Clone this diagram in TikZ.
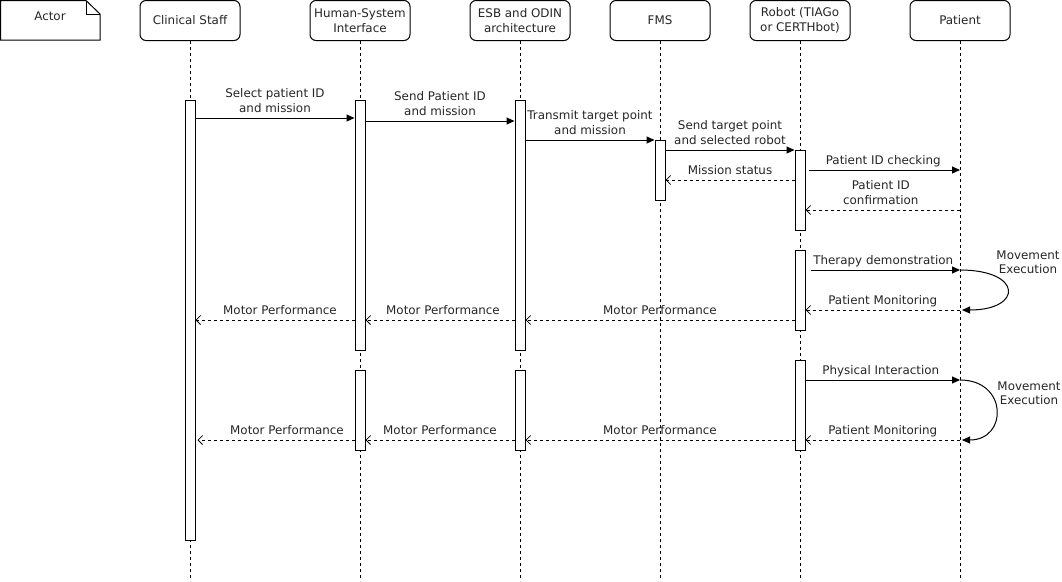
\documentclass[tikz,border=0pt]{standalone}
\usepackage{fontspec}
\setmainfont{DejaVu Sans}
\usetikzlibrary{arrows.meta}
\begin{document}
\begin{tikzpicture}[x=1pt,y=-1pt,
  every node/.style={font=\fontsize{11.9}{14.5}\selectfont, text=black!85},
  head/.style={draw, line width=1pt, rounded corners=6pt, minimum width=100pt,
    minimum height=40pt, inner sep=0pt, align=center, fill=white},
  life/.style={line width=0.8pt, dash pattern=on 3pt off 3pt},
  bar/.style={draw, fill=white, line width=1pt, minimum width=10pt, inner sep=0pt},
  sync/.style={line width=1pt, -{Triangle[length=8pt,width=7pt]}},
  reply/.style={line width=0.8pt, dash pattern=on 3pt off 3pt,
    -{Straight Barb[length=4.5pt,width=9pt,line width=0.8pt]}},
  lbl/.style={midway, above=2.5pt, inner sep=0pt, text depth=3pt, align=center},
  free/.style={inner sep=0pt, align=center}]
\useasboundingbox (0,0) rectangle (1062,581);

% Actor note
\draw[line width=1pt] (0.5,0.5) -- (86,0.5) -- (100,14) -- (100,40) -- (0.5,40) -- cycle;
\draw[line width=1pt] (86,0.5) -- (86,14) -- (100,14);
\node[free] (actor) at (50,16.5) {Actor};

% headers
\node[head] (cs)  at (190,20.5) {Clinical Staff};
\node[head] (hsi) at (360,20.5) {Human-System\\Interface};
\node[head] (esb) at (520,20.5) {ESB and ODIN\\architecture};
\node[head] (fms) at (660,20.5) {FMS};
\node[head] (rob) at (800,20.5) {Robot (TIAGo\\or CERTHbot)};
\node[head] (pat) at (960,20.5) {Patient};

% lifelines
\foreach \n in {cs,hsi,esb,fms,rob,pat}
  \draw[life] (\n.south) -- (\n.south |- 0,581);

% activation bars
\node[bar, minimum height=440pt] (csbar) at (190,320) {};
\node[bar, minimum height=250pt] (hsi1) at (360,225) {};
\node[bar, minimum height=80pt]  (hsi2) at (360,410) {};
\node[bar, minimum height=250pt] (esb1) at (520,225) {};
\node[bar, minimum height=80pt]  (esb2) at (520,410) {};
\node[bar, minimum height=60pt]  (fmsbar) at (660,170) {};
\node[bar, minimum height=80pt]  (rob1) at (800,190) {};
\node[bar, minimum height=80pt]  (rob2) at (800,290) {};
\node[bar, minimum height=90pt]  (rob3) at (800,405) {};

% messages
\draw[sync] (csbar.east |- 0,118) -- node[lbl] (m1) {Select patient ID\\and mission} (hsi1.west |- 0,118);
\draw[sync] (hsi1.east |- 0,121) -- node[lbl] (m2) {Send Patient ID\\and mission} (esb1.west |- 0,121);
\draw[sync] (esb1.east |- 0,140) -- node[lbl] (m3) {Transmit target point\\and mission} (fmsbar.west |- 0,140);
\draw[sync] (fmsbar.east |- 0,150) -- node[lbl] (m4) {Send target point\\and selected robot} (rob1.west |- 0,150);
\draw[sync] ([xshift=3pt]rob1.east |- 0,170) -- node[lbl, xshift=-1pt] (m5) {Patient ID checking} (pat |- 0,170);
\draw[reply] (rob1.west |- 0,180) -- node[lbl] (m6) {Mission status} (fmsbar.east |- 0,180);
\draw[reply] (pat |- 0,210) -- node[lbl, xshift=-2pt] (m7) {Patient ID\\confirmation} (rob1.east |- 0,210);

% therapy round
\draw[sync] ([xshift=5pt]rob2.east |- 0,270) -- node[lbl, xshift=-2pt] (m8) {Therapy demonstration} (pat |- 0,270);
\coordinate (l1a) at (pat |- 0,270);
\coordinate (l1b) at ([xshift=2pt]pat |- 0,310);
\draw[line width=1pt, -{Triangle[length=8pt,width=7pt]}] (l1a) .. controls (1023,270) and (1023,310) .. (l1b);
\node[free] (mv1) at (1028,262) {Movement\\Execution};
\draw[reply] (pat |- 0,310) -- node[lbl] (m9) {Patient Monitoring} (rob2.east |- 0,310);
\draw[reply] (rob2.west |- 0,320) -- node[lbl] (m10) {Motor Performance} (esb1.east |- 0,320);
\draw[reply] (esb1.west |- 0,320) -- node[lbl, xshift=3pt] (m11) {Motor Performance} (hsi1.east |- 0,320);
\draw[reply] (hsi1.west |- 0,320) -- node[lbl, xshift=5pt] (m12) {Motor Performance} (csbar.east |- 0,320);

% interaction round
\draw[sync] (rob3.east |- 0,380) -- node[lbl, xshift=-2pt] (m13) {Physical Interaction} (pat |- 0,380);
\coordinate (l2a) at (pat |- 0,380);
\coordinate (l2b) at ([xshift=2pt]pat |- 0,440);
\draw[line width=1pt, -{Triangle[length=8pt,width=7pt]}] (l2a) .. controls (1008,380) and (1008,440) .. (l2b);
\node[free] (mv2) at (1029,393) {Movement\\Execution};
\draw[reply] (pat |- 0,440) -- node[lbl] (m14) {Patient Monitoring} (rob3.east |- 0,440);
\draw[reply] (rob3.west |- 0,440) -- node[lbl] (m15) {Motor Performance} (esb2.east |- 0,440);
\draw[reply] (esb2.west |- 0,440) -- node[lbl] (m16) {Motor Performance} (hsi2.east |- 0,440);
\draw[reply] (hsi2.west |- 0,440) -- node[lbl, xshift=11pt] (m17) {Motor Performance} ([xshift=2pt]csbar.east |- 0,440);
\end{tikzpicture}
\end{document}
